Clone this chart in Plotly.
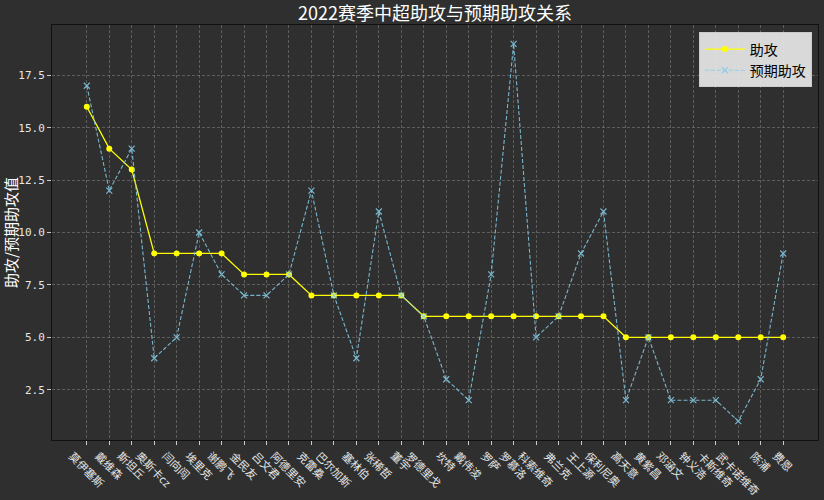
import plotly.graph_objects as go

players = ["莫伊塞斯", "戴维森", "斯坦丘", "奥斯卡cz", "闫向闯", "埃里克", "谢鹏飞", "金民友",
           "吕文君", "阿德里安", "克雷桑", "巴尔加斯", "塞林伯", "张稀哲", "董宇", "罗德里戈",
           "坎特", "戴伟浚", "罗萨", "罗慕洛", "科索维奇", "弗兰克", "王上源", "保利尼奥",
           "高天意", "黄紫昌", "邓涵文", "钟义浩", "卡斯维奇", "武卡诺维奇", "陈浦", "费恩"]
assists = [16, 14, 13, 9, 9, 9, 9, 8, 8, 8, 7, 7, 7, 7, 7, 6, 6, 6, 6, 6, 6, 6, 6, 6,
           5, 5, 5, 5, 5, 5, 5, 5]
expected = [17, 12, 14, 4, 5, 10, 8, 7, 7, 8, 12, 7, 4, 11, 7, 6, 3, 2, 8, 19, 5, 6, 9, 11,
            2, 5, 2, 2, 2, 1, 3, 9]
y_ticks = [2.5, 5.0, 7.5, 10.0, 12.5, 15.0, 17.5]

BG = "#2e2f2e"
FONT = "Noto Sans CJK SC"
xidx = list(range(len(players)))

fig = go.Figure()
fig.add_trace(go.Scatter(
    x=xidx, y=assists, name="助攻", mode="lines+markers",
    line=dict(color="#ffff00", width=1.3),
    marker=dict(symbol="circle", size=6, color="#ffff00"),
))
fig.add_trace(go.Scatter(
    x=xidx, y=expected, name="预期助攻", mode="lines+markers",
    line=dict(color="#87ceeb", width=1.1, dash="4px,2px"),
    marker=dict(symbol="x-thin", size=6, color="#87ceeb",
                line=dict(color="#87ceeb", width=1.2)),
    opacity=0.85,
))

for i, name in enumerate(players):
    fig.add_annotation(
        x=i, xref="x", y=0, yref="paper", text=name, showarrow=False,
        textangle=45, xanchor="center", yanchor="top", yshift=-5,
        font=dict(family=FONT, size=11, color="#e6e6e6"),
    )

fig.update_layout(
    width=824, height=500,
    paper_bgcolor=BG, plot_bgcolor=BG,
    margin=dict(l=52, r=6, t=25, b=60),
    title=dict(text="2022赛季中超助攻与预期助攻关系", x=0.528, xanchor="center",
               y=0.972, yanchor="middle",
               font=dict(family=FONT, size=18, color="#ffffff")),
    font=dict(family=FONT, color="#e6e6e6"),
    showlegend=True,
    legend=dict(x=0.992, y=0.982, xanchor="right", yanchor="top",
                bgcolor="rgba(232,232,232,0.92)", bordercolor="#cccccc", borderwidth=1,
                font=dict(family=FONT, size=14, color="#000000"),
                itemwidth=40, tracegroupgap=0),
    xaxis=dict(range=[-1.55, len(players) - 1 + 1.55], tickmode="array",
               tickvals=xidx, ticktext=[""] * len(players), automargin=False,
               showgrid=True, gridcolor="rgba(150,150,150,0.45)", griddash="3px,2px",
               gridwidth=0.8, zeroline=False,
               showline=True, linecolor="#111111", linewidth=1, mirror=True,
               ticks="outside", ticklen=4, tickcolor="#cccccc"),
    yaxis=dict(range=[0.1, 19.9], tickmode="array", tickvals=y_ticks,
               ticktext=[f"{v:.1f}" for v in y_ticks], automargin=False,
               showgrid=True, gridcolor="rgba(150,150,150,0.45)", griddash="3px,2px",
               gridwidth=0.8, zeroline=False,
               showline=True, linecolor="#111111", linewidth=1, mirror=True,
               ticks="outside", ticklen=4, tickcolor="#cccccc",
               tickfont=dict(family="DejaVu Sans Mono", size=11, color="#e6e6e6"),
               title=dict(text="助攻/预期助攻值", standoff=0,
                          font=dict(family=FONT, size=15, color="#ffffff"))),
)

fig.write_html("out.html")
